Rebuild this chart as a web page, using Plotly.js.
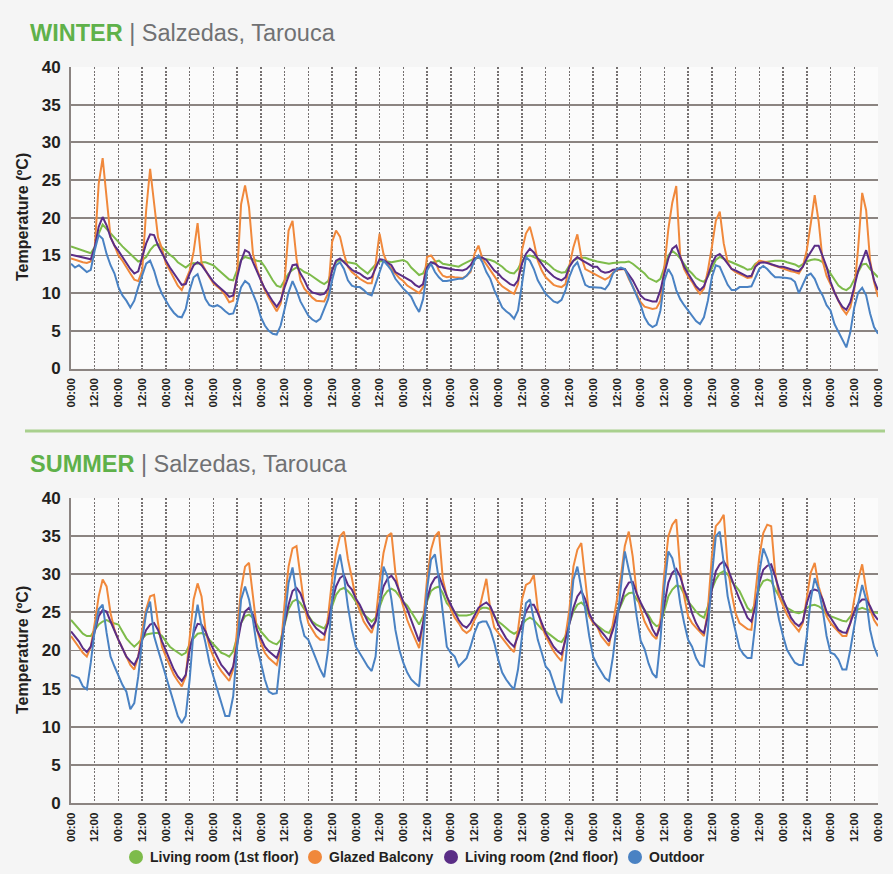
<!DOCTYPE html>
<html>
<head>
<meta charset="utf-8">
<script src="https://cdn.plot.ly/plotly-3.0.1.min.js"></script>
<style>
  html, body { margin: 0; padding: 0; background: #f5f5f5; }
  #chart { width: 893px; height: 874px; }
</style>
</head>
<body>
<div id="chart"></div>
<script>
// Two-hourly temperature readings (ºC) over 17 days, Salzedas, Tarouca.
const SAMPLE_STEP_H = 2;
const TICK_STEP_H = 12;
const TICK_LABELS = ["00:00", "12:00"];

const SERIES_NAMES = ["Living room (1st floor)", "Glazed Balcony", "Living room (2nd floor)", "Outdoor"];
const SERIES_COLORS = ["#7dbb4a", "#f0883b", "#5a2d86", "#4a82c3"];

// ---- Winter ----
const winterLiving1 = [
  16.2, 16.0, 15.8, 15.7, 15.4, 15.3, 16.1, 17.9, 19.1, 18.5, 17.9, 17.3,
  16.8, 16.2, 15.7, 15.2, 14.7, 14.2, 14.4, 14.8, 15.7, 16.3, 16.5, 16.1,
  15.6, 15.1, 14.7, 14.1, 13.7, 13.4, 13.8, 14.0, 13.9, 14.1, 14.1, 13.9,
  13.7, 13.2, 12.7, 12.2, 11.8, 11.7, 13.2, 14.4, 14.8, 14.7, 14.5, 14.3,
  14.2, 13.5, 12.6, 11.7, 11.0, 10.8, 11.7, 12.6, 13.1, 13.4, 13.2, 12.8,
  12.6, 12.2, 11.8, 11.5, 11.2, 11.6, 13.0, 14.1, 14.4, 14.3, 14.1, 14.0,
  13.9, 13.4, 13.0, 12.6, 13.2, 13.8, 14.2, 14.3, 14.2, 14.1, 14.2, 14.3,
  14.4, 14.1, 13.4, 12.9, 12.4, 12.6, 13.7, 14.0, 14.1, 14.3, 13.9, 13.8,
  13.8, 13.7, 13.5, 13.8, 14.1, 14.3, 14.6, 14.7, 14.6, 14.6, 14.4, 14.2,
  13.9, 13.5, 13.0, 12.7, 12.6, 13.2, 14.3, 14.9, 15.0, 14.8, 14.6, 14.4,
  14.1, 13.7, 13.2, 12.9, 12.7, 12.8, 13.7, 14.3, 14.6, 14.7, 14.7, 14.5,
  14.3, 14.2, 14.1, 14.0, 13.9, 14.0, 14.1, 14.1, 14.1, 14.2, 13.9, 13.5,
  13.1, 12.6, 12.0, 11.7, 11.5, 11.9, 13.5, 15.0, 15.6, 15.2, 14.6, 13.8,
  13.1, 12.6, 12.0, 11.7, 11.5, 12.2, 13.4, 14.4, 14.8, 14.5, 14.3, 14.1,
  13.9, 13.7, 13.4, 13.1, 13.2, 13.9, 14.2, 14.1, 14.2, 14.2, 14.3, 14.3,
  14.3, 14.1, 14.0, 13.8, 13.5, 13.9, 14.2, 14.4, 14.5, 14.4, 14.1, 13.4,
  12.6, 11.7, 11.0, 10.6, 10.4, 10.8, 11.7, 12.8, 13.8, 13.9, 13.2, 12.6,
  12.1
];
const winterBalcony = [
  14.6, 14.4, 14.3, 14.1, 14.0, 14.2, 16.0, 24.5, 27.9, 22.5, 17.4, 16.3,
  15.0, 14.3, 13.4, 12.6, 11.8, 11.6, 13.0, 21.0, 26.5, 22.0, 17.4, 15.9,
  13.9, 13.0, 11.9, 11.0, 10.4, 11.8, 13.0, 15.5, 19.3, 14.0, 13.0, 12.1,
  11.3, 10.8, 10.4, 9.7, 8.8, 9.0, 12.6, 21.8, 24.3, 21.4, 15.2, 13.2,
  11.7, 10.4, 9.4, 8.4, 7.6, 8.6, 11.7, 18.3, 19.6, 14.6, 11.7, 10.6,
  10.0, 9.4, 9.0, 8.9, 8.9, 10.0, 16.8, 18.3, 17.5, 15.2, 13.5, 12.8,
  12.3, 11.9, 11.6, 11.3, 11.3, 13.9, 17.9, 15.2, 13.9, 13.2, 12.6, 12.0,
  11.6, 11.0, 10.7, 10.3, 10.0, 10.8, 14.8, 15.0, 14.3, 13.0, 12.3, 12.1,
  12.2, 12.1, 12.0, 12.0, 12.3, 12.8, 15.2, 16.3, 14.6, 13.8, 13.0, 12.2,
  11.5, 10.9, 10.5, 10.2, 9.9, 11.2, 15.7, 17.9, 18.8, 16.8, 14.3, 13.0,
  12.1, 11.6, 11.1, 10.9, 10.8, 11.2, 13.9, 16.1, 17.8, 14.8, 13.2, 12.9,
  12.6, 12.3, 12.0, 11.8, 12.1, 12.7, 13.1, 13.2, 13.2, 11.9, 10.8, 9.7,
  8.8, 8.2, 8.0, 7.9, 8.0, 9.0, 13.5, 18.5, 22.0, 24.2, 15.0, 13.2,
  12.2, 11.5, 10.6, 9.9, 10.6, 13.0, 16.1, 19.6, 20.8, 16.6, 14.1, 13.2,
  12.8, 12.6, 12.3, 12.0, 12.1, 13.7, 14.3, 14.2, 14.1, 13.8, 13.6, 13.4,
  13.2, 13.1, 12.9, 12.8, 12.6, 13.5, 15.7, 19.2, 23.0, 19.5, 14.3, 12.3,
  11.2, 9.9, 8.8, 7.9, 7.2, 8.1, 10.4, 16.1, 23.3, 21.0, 14.3, 11.5,
  9.5
];
const winterLiving2 = [
  15.1, 15.0, 14.9, 14.8, 14.6, 14.5, 16.1, 18.8, 20.1, 19.0, 17.4, 16.3,
  15.6, 14.8, 13.9, 13.2, 12.6, 12.9, 14.8, 16.6, 17.8, 17.7, 16.3, 15.2,
  14.3, 13.4, 12.6, 11.8, 11.1, 11.2, 12.6, 13.7, 14.1, 13.7, 13.0, 12.3,
  11.5, 11.0, 10.6, 10.1, 9.5, 9.7, 12.1, 14.3, 15.7, 15.4, 14.1, 12.8,
  11.7, 10.6, 9.7, 8.9, 8.2, 9.0, 10.8, 12.3, 13.7, 13.8, 12.6, 11.7,
  10.6, 10.1, 9.9, 9.8, 9.9, 10.6, 13.0, 14.3, 14.6, 14.1, 13.7, 13.1,
  12.8, 12.6, 12.2, 11.9, 12.1, 13.4, 14.5, 14.4, 14.1, 13.7, 12.8, 12.5,
  12.3, 11.9, 11.6, 11.1, 10.8, 11.2, 13.4, 14.1, 13.9, 13.5, 13.4, 13.2,
  13.2, 13.1, 13.0, 13.0, 13.2, 13.7, 14.6, 14.8, 14.7, 14.4, 13.7, 13.0,
  12.6, 12.0, 11.6, 11.2, 11.0, 11.7, 13.9, 15.2, 15.9, 15.4, 14.6, 13.9,
  13.2, 12.7, 12.2, 11.9, 11.7, 12.1, 13.5, 14.3, 14.8, 14.4, 14.1, 13.8,
  13.5, 13.5, 12.9, 12.7, 12.8, 13.1, 13.2, 13.2, 13.2, 12.5, 11.7, 10.7,
  9.7, 9.2, 9.0, 8.9, 8.9, 10.4, 12.6, 14.6, 15.9, 16.3, 14.8, 13.5,
  12.6, 11.7, 10.9, 10.4, 10.9, 12.3, 13.9, 14.9, 15.2, 14.6, 13.9, 13.2,
  13.0, 12.7, 12.5, 12.2, 12.3, 13.5, 14.0, 14.1, 14.0, 13.8, 13.7, 13.5,
  13.5, 13.3, 13.1, 13.0, 12.9, 13.5, 14.6, 15.4, 16.3, 16.3, 15.0, 13.5,
  11.5, 10.1, 9.0, 8.2, 7.8, 8.8, 10.8, 13.0, 14.3, 15.7, 13.9, 11.7,
  10.4
];
const winterOutdoor = [
  13.9, 13.4, 13.7, 13.2, 12.8, 13.1, 15.7, 17.7, 17.2, 15.2, 13.7, 12.6,
  10.8, 9.7, 9.0, 8.1, 9.0, 10.8, 12.3, 13.9, 14.3, 13.0, 11.2, 9.9,
  9.0, 8.1, 7.4, 6.9, 6.8, 7.9, 10.4, 12.1, 12.5, 10.8, 9.2, 8.4,
  8.2, 8.4, 8.1, 7.6, 7.2, 7.3, 8.8, 10.8, 11.6, 11.2, 9.9, 8.6,
  6.8, 5.7, 5.0, 4.6, 4.5, 5.7, 7.9, 10.1, 11.6, 10.4, 8.9, 7.9,
  7.0, 6.5, 6.2, 6.6, 7.9, 9.2, 11.7, 13.7, 14.1, 13.2, 11.7, 11.0,
  10.8, 10.8, 10.4, 9.9, 9.7, 11.2, 12.8, 14.3, 13.7, 13.0, 11.9, 11.2,
  10.6, 10.1, 9.5, 8.4, 7.5, 9.2, 13.0, 13.9, 12.8, 12.1, 11.6, 11.6,
  11.7, 11.8, 11.9, 11.9, 12.3, 13.0, 14.3, 15.0, 14.1, 12.8, 11.9, 10.4,
  9.2, 8.1, 7.6, 7.2, 6.6, 7.7, 11.2, 14.8, 14.3, 13.2, 11.7, 10.8,
  9.9, 9.4, 8.9, 8.7, 9.1, 10.4, 12.2, 13.5, 14.1, 12.6, 11.1, 10.8,
  10.8, 10.8, 10.7, 10.5, 11.2, 12.6, 13.2, 13.4, 13.2, 12.1, 10.8, 9.5,
  8.4, 6.8, 5.9, 5.5, 5.8, 7.7, 11.7, 13.2, 12.3, 10.4, 9.2, 8.4,
  7.7, 6.9, 6.3, 5.9, 6.8, 9.0, 12.1, 13.7, 13.5, 12.3, 11.1, 10.4,
  10.4, 10.8, 10.8, 10.8, 10.9, 12.1, 13.2, 13.6, 13.2, 12.6, 12.1, 12.1,
  12.1, 12.0, 11.9, 11.5, 10.0, 11.1, 12.3, 12.6, 11.9, 10.6, 9.7, 8.4,
  7.7, 5.9, 4.8, 3.8, 2.8, 4.8, 8.1, 10.1, 10.7, 9.7, 7.3, 5.5,
  4.6
];

// ---- Summer ----
const summerLiving1 = [
  24.0, 23.4, 22.7, 22.2, 21.9, 21.9, 22.7, 23.4, 23.8, 24.0, 23.7, 23.6,
  23.4, 22.5, 21.6, 21.0, 20.5, 21.0, 21.6, 22.1, 22.2, 22.3, 22.3, 21.9,
  21.2, 20.5, 20.1, 19.7, 19.4, 19.7, 20.8, 21.6, 22.2, 22.3, 22.1, 21.4,
  20.8, 20.2, 19.7, 19.5, 19.2, 19.9, 21.9, 23.6, 24.5, 24.7, 24.3, 23.4,
  22.5, 21.9, 21.3, 21.0, 20.8, 21.4, 23.6, 25.4, 26.4, 26.7, 26.2, 25.4,
  24.5, 23.8, 23.4, 23.1, 22.9, 23.8, 25.8, 27.3, 28.0, 28.2, 27.8, 27.2,
  26.4, 25.4, 24.7, 24.3, 23.8, 24.3, 25.8, 27.1, 27.8, 28.1, 27.8, 27.1,
  26.4, 25.9, 25.1, 24.3, 23.4, 24.5, 26.4, 27.8, 28.2, 28.4, 27.5, 26.2,
  25.6, 25.0, 24.6, 24.6, 24.6, 24.7, 25.0, 25.4, 25.6, 25.6, 25.4, 24.5,
  23.8, 23.4, 22.9, 22.5, 22.2, 22.5, 23.4, 24.0, 24.3, 24.0, 23.4, 22.8,
  22.5, 22.1, 21.6, 21.3, 21.1, 21.9, 23.6, 25.1, 26.0, 26.3, 25.8, 24.5,
  23.7, 23.3, 22.8, 22.5, 22.3, 23.2, 24.7, 26.0, 27.1, 27.5, 27.6, 26.7,
  26.0, 25.3, 24.6, 23.7, 23.2, 23.4, 25.4, 27.1, 28.0, 28.5, 28.4, 27.3,
  26.4, 25.8, 25.1, 24.6, 24.3, 25.8, 28.0, 29.3, 30.1, 30.4, 30.0, 29.1,
  28.4, 27.8, 26.7, 25.6, 25.1, 26.2, 28.2, 29.1, 29.3, 29.1, 28.0, 27.1,
  26.2, 25.6, 25.3, 25.0, 24.9, 25.1, 25.6, 25.9, 26.0, 25.8, 25.4, 24.7,
  24.5, 24.3, 24.0, 23.9, 23.8, 24.5, 25.1, 25.4, 25.6, 25.4, 25.3, 25.0,
  24.9
];
const summerBalcony = [
  21.9, 21.2, 20.5, 19.7, 19.2, 20.5, 23.6, 27.1, 29.3, 28.4, 24.9, 22.7,
  21.4, 20.3, 19.2, 18.1, 17.5, 19.2, 22.7, 25.4, 27.1, 27.3, 23.6, 20.5,
  19.2, 17.9, 16.8, 16.0, 15.3, 16.6, 21.9, 26.7, 28.8, 27.1, 22.7, 20.5,
  19.2, 18.1, 17.3, 16.6, 16.0, 17.5, 22.7, 28.0, 31.0, 31.5, 27.1, 22.7,
  21.0, 19.7, 19.0, 18.6, 18.1, 20.1, 26.2, 31.0, 33.4, 33.7, 29.7, 25.8,
  23.6, 22.7, 21.9, 21.4, 21.4, 24.5, 29.3, 32.8, 35.0, 35.6, 32.0, 29.5,
  26.8, 25.2, 23.8, 23.0, 22.3, 24.0, 28.9, 32.8, 35.0, 35.4, 30.2, 27.5,
  25.6, 24.0, 22.7, 21.6, 20.3, 23.6, 29.3, 33.2, 35.0, 35.6, 29.3, 27.1,
  25.4, 24.3, 23.6, 22.7, 22.3, 22.7, 24.0, 25.0, 27.1, 29.4, 25.4, 23.0,
  22.3, 21.6, 21.0, 20.3, 19.8, 22.7, 26.7, 28.6, 28.9, 29.9, 25.4, 23.2,
  21.9, 20.8, 19.9, 19.2, 18.6, 21.9, 25.4, 31.0, 33.2, 34.1, 28.9, 24.5,
  23.6, 23.2, 21.9, 21.2, 20.6, 23.6, 26.7, 29.7, 33.7, 35.6, 32.3, 27.5,
  25.4, 23.8, 22.8, 22.0, 21.5, 24.0, 30.2, 35.0, 36.5, 37.2, 30.6, 27.1,
  24.5, 23.6, 23.0, 22.5, 21.9, 25.4, 32.3, 36.3, 36.9, 37.8, 31.1, 27.5,
  24.9, 23.6, 23.2, 22.8, 22.7, 27.1, 32.3, 35.4, 36.5, 36.3, 30.2, 27.1,
  25.8, 24.7, 23.8, 23.2, 22.5, 23.6, 27.1, 30.2, 31.5, 28.4, 26.7, 24.5,
  23.6, 23.0, 22.4, 21.9, 21.9, 23.6, 26.7, 29.3, 31.3, 28.0, 25.4, 24.0,
  23.2
];
const summerLiving2 = [
  22.5, 21.9, 21.2, 20.3, 19.8, 20.5, 22.7, 24.5, 25.3, 25.1, 23.8, 22.5,
  21.4, 20.3, 19.2, 18.6, 18.1, 19.2, 21.4, 22.7, 23.4, 23.6, 22.7, 21.2,
  19.9, 18.6, 17.5, 16.6, 16.0, 16.8, 20.1, 22.3, 23.5, 23.4, 22.5, 21.2,
  20.1, 19.0, 18.1, 17.5, 16.8, 17.9, 21.0, 23.6, 25.1, 25.6, 24.7, 22.7,
  21.6, 20.5, 19.9, 19.4, 19.0, 20.5, 23.6, 26.0, 27.8, 28.2, 27.5, 26.0,
  24.5, 23.6, 22.9, 22.5, 22.1, 23.6, 26.4, 28.4, 29.5, 29.9, 28.6, 28.0,
  26.8, 26.0, 24.9, 23.8, 23.0, 23.8, 26.2, 28.4, 29.4, 29.8, 29.1, 27.8,
  26.4, 25.4, 24.0, 22.7, 21.2, 23.6, 26.7, 28.6, 29.5, 29.8, 28.4, 27.1,
  26.0, 24.9, 24.0, 23.3, 23.0, 23.6, 24.7, 25.6, 26.0, 26.3, 25.8, 24.5,
  23.4, 22.5, 21.6, 21.0, 20.5, 21.9, 23.6, 25.1, 26.0, 26.0, 24.9, 23.6,
  22.3, 21.4, 20.5, 19.9, 19.5, 21.4, 23.6, 25.6, 27.1, 27.8, 26.7, 24.9,
  23.8, 23.2, 22.5, 21.9, 21.2, 22.7, 24.7, 26.2, 28.0, 28.9, 29.0, 27.5,
  26.3, 25.2, 24.2, 22.8, 21.9, 23.2, 26.2, 28.9, 30.2, 30.7, 29.7, 28.0,
  26.7, 24.9, 23.6, 22.7, 22.3, 24.5, 28.0, 30.4, 31.3, 31.7, 30.8, 29.3,
  28.0, 26.7, 25.4, 24.3, 23.8, 25.8, 28.9, 30.6, 31.1, 31.3, 29.7, 28.0,
  26.7, 25.4, 24.3, 23.6, 23.2, 23.8, 26.2, 27.8, 28.0, 27.8, 26.7, 25.1,
  24.3, 23.4, 22.7, 22.4, 22.3, 23.6, 25.1, 26.2, 26.7, 26.7, 25.8, 24.7,
  24.0
];
const summerOutdoor = [
  16.8, 16.6, 16.4, 15.3, 14.9, 18.4, 22.7, 25.4, 26.0, 22.3, 19.2, 17.9,
  16.6, 15.5, 14.6, 12.3, 13.1, 16.6, 21.4, 24.9, 26.4, 21.9, 20.1, 18.4,
  16.4, 14.9, 13.3, 11.4, 10.5, 11.4, 16.2, 22.7, 26.0, 23.2, 21.0, 18.4,
  16.6, 14.9, 13.1, 11.4, 11.4, 14.0, 20.5, 26.7, 28.4, 26.7, 24.0, 20.5,
  18.4, 16.2, 14.6, 14.3, 14.4, 19.2, 24.5, 28.9, 30.9, 27.1, 24.0, 21.9,
  21.4, 20.1, 18.8, 17.5, 16.5, 20.1, 26.7, 30.6, 32.6, 29.7, 25.8, 22.7,
  20.5, 19.7, 18.8, 17.9, 17.3, 19.2, 25.8, 31.0, 29.7, 26.7, 22.7, 20.1,
  18.4, 17.1, 16.2, 15.7, 15.3, 21.4, 28.0, 31.9, 32.6, 29.3, 24.5, 20.5,
  19.7, 19.2, 17.9, 18.4, 19.0, 20.5, 22.3, 23.6, 23.8, 23.8, 22.7, 21.0,
  18.8, 17.1, 16.2, 15.5, 14.9, 17.5, 22.3, 26.2, 26.7, 24.0, 21.4, 19.7,
  17.9, 17.3, 15.7, 14.2, 13.1, 18.4, 23.6, 29.3, 31.0, 28.4, 25.4, 21.9,
  19.2, 18.1, 17.3, 16.4, 16.0, 19.2, 23.6, 28.4, 33.0, 30.6, 28.4, 24.5,
  21.3, 20.2, 18.3, 17.0, 16.4, 21.4, 28.4, 33.0, 32.1, 29.9, 26.2, 23.6,
  21.4, 20.5, 19.0, 18.1, 17.9, 22.7, 29.7, 35.0, 35.6, 31.5, 27.1, 24.7,
  22.3, 20.3, 19.5, 19.0, 19.0, 23.6, 30.2, 33.4, 32.1, 30.4, 26.7, 24.0,
  21.9, 20.1, 19.2, 18.4, 18.1, 18.1, 21.9, 26.7, 29.5, 28.0, 25.4, 21.9,
  19.7, 19.5, 18.8, 17.5, 17.5, 20.1, 23.2, 26.2, 28.6, 26.7, 22.7, 20.5,
  19.2
];

// Sample times in hours from the first midnight.
const hours = winterLiving1.map((_, i) => i * SAMPLE_STEP_H);
const lastHour = hours[hours.length - 1];

const tickVals = [];
const tickText = [];
for (let h = 0; h <= lastHour; h += TICK_STEP_H) {
  tickVals.push(h);
  tickText.push(TICK_LABELS[(h / TICK_STEP_H) % TICK_LABELS.length]);
}

const W = 893, H = 874;
const px = v => v / W;
const py = v => 1 - v / H;

const FONT = "Liberation Sans, Arial, Helvetica, sans-serif";
const INK = "#231f20";
const GRID = "#8b8481";

function seasonTraces(seriesList, xa, ya) {
  return seriesList.map((vals, k) => ({
    type: "scatter",
    mode: "lines",
    x: hours,
    y: vals,
    xaxis: xa,
    yaxis: ya,
    name: SERIES_NAMES[k],
    showlegend: false,
    hoverinfo: "skip",
    line: { color: SERIES_COLORS[k], width: 2 }
  }));
}

const traces = [
  ...seasonTraces([winterLiving1, winterBalcony, winterLiving2, winterOutdoor], "x", "y"),
  ...seasonTraces([summerLiving1, summerBalcony, summerLiving2, summerOutdoor], "x2", "y2")
];

function xAxis(anchor) {
  return {
    domain: [px(71), px(878)],
    anchor: anchor,
    range: [0, lastHour],
    tickmode: "array",
    tickvals: tickVals,
    ticktext: tickText,
    tickangle: -90,
    tickfont: { family: FONT, size: 11.5, color: INK, weight: "bold" },
    ticks: "",
    ticklabelstandoff: 3,
    showgrid: true,
    gridcolor: "#757070",
    gridwidth: 1.5,
    griddash: "2px,1.5px",
    showline: true,
    linecolor: GRID,
    linewidth: 2,
    zeroline: false,
    fixedrange: true
  };
}

function yAxis(anchor, top, bottom) {
  return {
    domain: [py(bottom), py(top)],
    anchor: anchor,
    range: [0, 40],
    dtick: 5,
    tick0: 0,
    tickfont: { family: FONT, size: 17, color: INK, weight: "bold" },
    ticks: "",
    ticklabelstandoff: 5,
    showgrid: true,
    gridcolor: GRID,
    gridwidth: 1.8,
    showline: true,
    linecolor: GRID,
    linewidth: 2,
    zeroline: false,
    fixedrange: true
  };
}

function seasonTitle(season, yPix) {
  return {
    xref: "paper", yref: "paper",
    x: px(28), y: py(yPix),
    xanchor: "left", yanchor: "middle",
    showarrow: false,
    text: "<b>" + season + "</b> <span style='color:#707173'>| Salzedas, Tarouca</span>",
    font: { family: FONT, size: 23.5, color: "#5fb14a" }
  };
}

function yTitle(yPix) {
  return {
    xref: "paper", yref: "paper",
    x: px(22), y: py(yPix),
    xanchor: "center", yanchor: "middle",
    textangle: -90,
    showarrow: false,
    text: "<b>Temperature (ºC)</b>",
    font: { family: FONT, size: 16, color: INK }
  };
}

// Legend row: a round swatch followed by its label.
const LEGEND_Y = 857;
const LEGEND_SWATCH_X = [136, 315, 451, 635];
const LEGEND_R = 7;
const legendShapes = SERIES_NAMES.map((_, k) => ({
  type: "circle",
  xref: "paper", yref: "paper",
  xsizemode: "pixel", ysizemode: "pixel",
  xanchor: px(LEGEND_SWATCH_X[k]), yanchor: py(LEGEND_Y),
  x0: -LEGEND_R, x1: LEGEND_R, y0: -LEGEND_R, y1: LEGEND_R,
  fillcolor: SERIES_COLORS[k],
  line: { width: 0 }
}));
const legendLabels = SERIES_NAMES.map((name, k) => ({
  xref: "paper", yref: "paper",
  x: px(LEGEND_SWATCH_X[k] + LEGEND_R + 5), y: py(LEGEND_Y),
  xanchor: "left", yanchor: "middle",
  showarrow: false,
  text: "<b>" + name + "</b>",
  font: { family: FONT, size: 14, color: INK }
}));

const layout = {
  width: W,
  height: H,
  margin: { l: 0, r: 0, t: 0, b: 0 },
  paper_bgcolor: "#f5f5f5",
  plot_bgcolor: "#fbfbfb",
  showlegend: false,
  xaxis: xAxis("y"),
  yaxis: yAxis("x", 67, 368.5),
  xaxis2: xAxis("y2"),
  yaxis2: yAxis("x2", 498, 803),
  annotations: [
    seasonTitle("WINTER", 33),
    seasonTitle("SUMMER", 464),
    yTitle(217),
    yTitle(650),
    ...legendLabels
  ],
  shapes: [{
    type: "line", xref: "paper", yref: "paper",
    x0: px(25), x1: px(885), y0: py(431), y1: py(431),
    line: { color: "#a9d08e", width: 3 }
  }, ...legendShapes]
};

Plotly.newPlot("chart", traces, layout, { displayModeBar: false, staticPlot: true });
</script>
</body>
</html>
